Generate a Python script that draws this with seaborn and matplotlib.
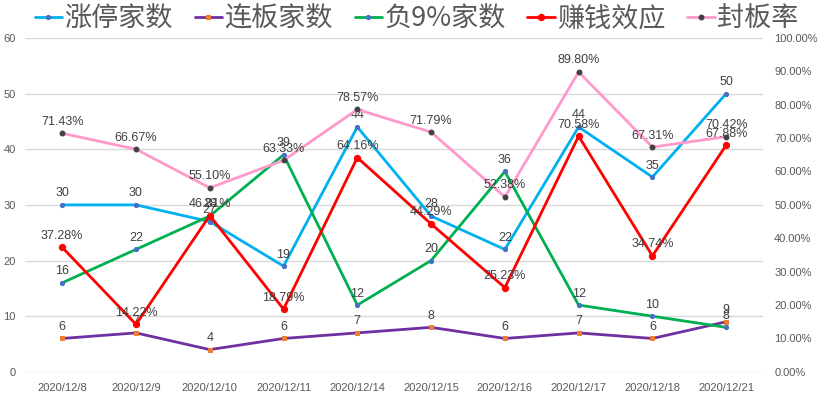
import matplotlib
matplotlib.use("Agg")
import matplotlib.pyplot as plt
from matplotlib.ticker import FuncFormatter
import seaborn as sns
import pandas as pd

# 数据
dates = ["2020/12/8", "2020/12/9", "2020/12/10", "2020/12/11", "2020/12/14",
         "2020/12/15", "2020/12/16", "2020/12/17", "2020/12/18", "2020/12/21"]
zt = [30, 30, 27, 19, 44, 28, 22, 44, 35, 50]          # 涨停家数
lb = [6, 7, 4, 6, 7, 8, 6, 7, 6, 9]                     # 连板家数
f9 = [16, 22, 28, 39, 12, 20, 36, 12, 10, 8]            # 负9%家数
zq = [37.28, 14.22, 46.81, 18.79, 64.16, 44.29, 25.23, 70.58, 34.74, 67.88]  # 赚钱效应
fb = [71.43, 66.67, 55.10, 63.33, 78.57, 71.79, 52.38, 89.80, 67.31, 70.42]  # 封板率

sns.set_style("white")
plt.rcParams['font.family'] = ['Noto Sans CJK SC', 'DejaVu Sans']
narrow = ['Liberation Sans', 'DejaVu Sans']

df = pd.DataFrame({"pos": range(len(dates)), "zt": zt, "lb": lb, "f9": f9,
                   "zq": [v / 100 for v in zq], "fb": [v / 100 for v in fb]})

fig = plt.figure(figsize=(8.17, 3.99), dpi=100)
ax = fig.add_axes([0.031, 0.068, 0.903, 0.837])
ax2 = ax.twinx()

lab_c = "#404040"
tick_c = "#595959"

def draw(a, col, color, mcolor, marker, ms, label, fmt):
    sns.lineplot(data=df, x="pos", y=col, ax=a, color=color, lw=2,
                 marker=marker, markersize=ms, markerfacecolor=mcolor,
                 markeredgecolor=mcolor, label=label, legend=False)
    for x, y in zip(df["pos"], df[col]):
        a.annotate(fmt(y), (x, y), xytext=(0, 4), textcoords="offset points",
                   ha="center", va="bottom", fontsize=9, color=lab_c,
                   family=narrow)

draw(ax, "zt", "#00B0F0", "#4472C4", "o", 3, "涨停家数", lambda v: f"{v:g}")
draw(ax, "lb", "#7030A0", "#ED7D31", "s", 3, "连板家数", lambda v: f"{v:g}")
draw(ax, "f9", "#00B050", "#4472C4", "o", 3, "负9%家数", lambda v: f"{v:g}")
draw(ax2, "zq", "#FF0000", "#FF0000", "o", 4.5, "赚钱效应", lambda v: f"{v*100:.2f}%")
draw(ax2, "fb", "#FF99CC", "#404040", "o", 3.5, "封板率", lambda v: f"{v*100:.2f}%")

ax.set_xlim(-0.5, len(dates) - 0.5)
ax.set_ylim(0, 60)
ax2.set_ylim(0, 1.0)
ax.set_yticks(range(0, 61, 10))
ax2.set_yticks([i / 10 for i in range(11)])
ax2.yaxis.set_major_formatter(FuncFormatter(lambda v, p: f"{v*100:.2f}%"))
ax.set_xticks(range(len(dates)))
ax.set_xticklabels(dates)
ax.set_xlabel("")
ax.set_ylabel("")
ax2.set_ylabel("")

ax.grid(axis="y", color="#D9D9D9", lw=1)
ax.set_axisbelow(True)
for a in (ax, ax2):
    for s in a.spines.values():
        s.set_visible(False)
    a.tick_params(length=0, labelsize=8, labelcolor=tick_c)
    for t in a.get_xticklabels() + a.get_yticklabels():
        t.set_family(narrow)
ax.tick_params(axis="y", pad=7)
ax.tick_params(axis="x", pad=8)
ax2.tick_params(axis="y", pad=8)

h1, l1 = ax.get_legend_handles_labels()
h2, l2 = ax2.get_legend_handles_labels()
fig.legend(h1 + h2, l1 + l2, loc="center", bbox_to_anchor=(0.51, 0.952),
           ncol=5, frameon=False, fontsize=19.5, handlelength=1.0,
           handletextpad=0.1, columnspacing=0.8, labelcolor="#595959")

fig.savefig("out.png", dpi=100)
